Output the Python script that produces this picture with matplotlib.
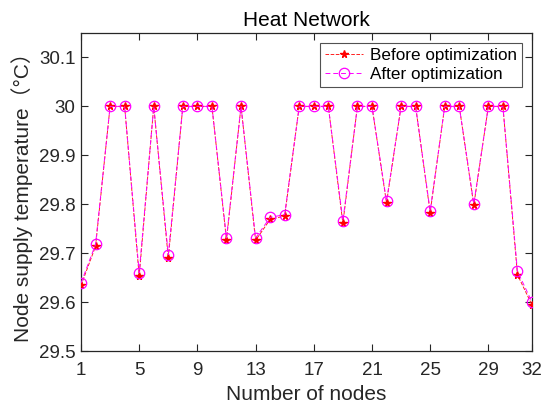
import matplotlib
matplotlib.use("Agg")
import matplotlib.pyplot as plt
import numpy as np

nodes = list(range(1, 33))
before = [29.634, 29.714, 30.0, 30.0, 29.653, 30.0, 29.690, 30.0, 30.0, 30.0,
          29.727, 30.0, 29.726, 29.769, 29.776, 30.0, 30.0, 30.0, 29.761, 30.0,
          30.0, 29.803, 30.0, 30.0, 29.783, 30.0, 30.0, 29.798, 30.0, 30.0,
          29.656, 29.594]
after = [29.639, 29.718, 30.0, 30.0, 29.660, 30.0, 29.697, 30.0, 30.0, 30.0,
         29.731, 30.0, 29.731, 29.773, 29.779, 30.0, 30.0, 30.0, 29.766, 30.0,
         30.0, 29.806, 30.0, 30.0, 29.786, 30.0, 30.0, 29.801, 30.0, 30.0,
         29.663, 29.600]
xticks = [1, 5, 9, 13, 17, 21, 25, 29, 32]
yticks = [29.5, 29.6, 29.7, 29.8, 29.9, 30.0, 30.1]
yticklabels = ["29.5", "29.6", "29.7", "29.8", "29.9", "30", "30.1"]

fam = ["Liberation Sans", "Noto Sans CJK SC", "DejaVu Sans"]
plt.rcParams["font.family"] = fam

fig = plt.figure(figsize=(5.51, 4.08), dpi=100)
ax = fig.add_axes([81/551, 1-351/408, (532-81)/551, (351-33)/408])

ax.plot(nodes, before, linestyle="--", color="#ff2020", linewidth=0.7,
        marker="*", markersize=5.5, markerfacecolor="#ff0000",
        markeredgecolor="#ff0000", label="Before optimization", zorder=3)
ax.plot(nodes, after, linestyle="--", color="#ff00ff", linewidth=0.7,
        dashes=(5, 3), marker="o", markersize=7.5, markerfacecolor="none",
        markeredgecolor="#ff00ff", markeredgewidth=0.9,
        label="After optimization", zorder=4)

ax.set_xlim(1, 32)
ax.set_ylim(29.5, 30.15)
ax.set_xticks(xticks)
ax.set_yticks(yticks)
ax.set_yticklabels(yticklabels)
ax.tick_params(direction="in", top=True, right=True, labelsize=13.5,
               length=5, width=0.8, colors="#262626", labelcolor="#262626")
ax.tick_params(axis="x", pad=8)
ax.tick_params(axis="y", pad=4)
for s in ax.spines.values():
    s.set_linewidth(0.9)
    s.set_color("#262626")

ax.set_title("Heat Network", fontsize=15, color="#000000", pad=5)
ax.set_xlabel("Number of nodes", fontsize=15, color="#262626", labelpad=4)
ax.set_ylabel("Node supply temperature（°C）", fontsize=15, color="#262626", labelpad=4)

leg = ax.legend(loc="upper right", fontsize=12.3, frameon=True, fancybox=False,
                edgecolor="#262626", handlelength=2.2, borderpad=0.3,
                labelspacing=0.2, handletextpad=0.4, borderaxespad=0.6)
leg.get_frame().set_linewidth(0.8)

fig.savefig("out.png", dpi=100)
